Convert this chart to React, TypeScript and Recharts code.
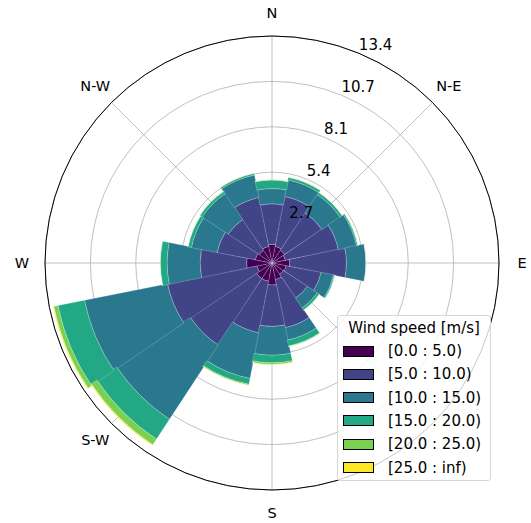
import React from 'react';
import { RadialBarChart, RadialBar, PolarAngleAxis, PolarRadiusAxis, PolarGrid, Legend } from 'recharts';

// 16 compass sectors, clockwise from north
const directions = ['N', 'NNE', 'NE', 'ENE', 'E', 'ESE', 'SE', 'SSE', 'S', 'SSW', 'SW', 'WSW', 'W', 'WNW', 'NW', 'NNW'];
// S-E sits under the legend in the original, so it is not shown
const dirLabels: Record<string, string> = { N: 'N', NE: 'N-E', E: 'E', S: 'S', SW: 'S-W', W: 'W', NW: 'N-W' };

const speedBins = ['[0.0 : 5.0)', '[5.0 : 10.0)', '[10.0 : 15.0)', '[15.0 : 20.0)', '[20.0 : 25.0)', '[25.0 : inf)'];
const binColors = ['#440154', '#414487', '#2a788e', '#22a884', '#7ad151', '#fde725'];

// frequency per direction for each speed bin
const bin0 = [1.1, 1.0, 0.9, 0.8, 1.05, 0.85, 0.8, 1.0, 1.3, 1.1, 1.1, 0.9, 1.5, 1.0, 0.9, 1.0];
const bin1 = [2.4, 3.0, 2.65, 3.2, 3.35, 2.1, 1.7, 2.9, 2.45, 3.1, 4.7, 5.4, 2.75, 2.3, 2.2, 2.95];
const bin2 = [0.9, 1.0, 1.3, 1.1, 1.15, 0.75, 0.7, 0.75, 1.7, 2.75, 5.25, 5.0, 1.95, 1.55, 1.85, 1.35];
const bin3 = [0.5, 0.15, 0.15, 0.08, 0.02, 0.08, 0.15, 0.35, 0.45, 0.35, 1.4, 1.6, 0.4, 0.2, 0.15, 0.1];
const bin4 = [0.03, 0.03, 0.02, 0.02, 0, 0.01, 0.02, 0.04, 0.1, 0.06, 0.4, 0.25, 0.02, 0.02, 0.03, 0.02];
const bin5 = [0, 0, 0, 0, 0, 0, 0, 0.01, 0.02, 0.01, 0.05, 0.05, 0, 0, 0, 0];

const radiusTicks = [2.684, 5.368, 8.052, 10.736, 13.42];
const gridAngles = [90, 45, 0, -45, -90, -135, -180, -225];

const bins = [bin0, bin1, bin2, bin3, bin4, bin5];
const data = directions.map((dir, i) => {
  const row: Record<string, any> = { dir };
  bins.forEach((b, k) => { row[`b${k}`] = b[i]; });
  return row;
});

const FONT = 'DejaVu Sans, sans-serif';
const HALF_SECTOR = 180 / directions.length;
const RAD = Math.PI / 180;

// tick coordinate is the sector start, labels go to the sector middle
const AngleTick = (props: any) => {
  const { x, y, cx, cy, radius, tickSize, payload } = props;
  const label = dirLabels[payload.value];
  if (!label) return null;
  let tx = x;
  let ty = y;
  if (cx != null && cy != null && radius != null) {
    const r = radius + (tickSize ?? 23);
    const a = (payload.coordinate + HALF_SECTOR) * RAD;
    tx = cx + r * Math.cos(a);
    ty = cy - r * Math.sin(a);
  }
  return (
    <text x={tx} y={ty} textAnchor="middle" dominantBaseline="central" fontSize={14.5} fill="#000" fontFamily={FONT}>
      {label}
    </text>
  );
};

const RadiusTick = (props: any) => {
  const { x, y, payload } = props;
  return (
    <text x={x} y={y - 3} textAnchor="start" fontSize={15} fill="#000" fontFamily={FONT}>
      {Number(payload.value).toFixed(1)}
    </text>
  );
};

const LegendBox = () => (
  <div style={{
    position: 'relative', width: 154, height: 166, boxSizing: 'border-box',
    border: '1px solid #d6d6d6', borderRadius: 3, background: 'rgba(255,255,255,0.8)',
    fontFamily: FONT, fontSize: 15, color: '#000',
  }}>
    <div style={{ position: 'absolute', left: 0, right: 0, top: 3, textAlign: 'center', lineHeight: '18px', whiteSpace: 'nowrap' }}>Wind speed [m/s]</div>
    {speedBins.map((name, i) => (
      <div key={name} style={{ position: 'absolute', left: 5, top: 26 + i * 23.3, height: 18, display: 'flex', alignItems: 'center' }}>
        <span style={{ display: 'inline-block', width: 31, height: 11, boxSizing: 'border-box', border: '1px solid #000', background: binColors[i] }} />
        <span style={{ marginLeft: 14, lineHeight: '18px', whiteSpace: 'nowrap' }}>{name}</span>
      </div>
    ))}
  </div>
);

export default function App() {
  return (
    <div style={{ position: 'absolute', left: 0, top: 0, width: 531, height: 523, background: '#fff' }}>
      <RadialBarChart
        width={531}
        height={523}
        data={data}
        layout="centric"
        cx={272}
        cy={263}
        innerRadius={0}
        outerRadius={227}
        startAngle={90 - HALF_SECTOR}
        endAngle={90 - HALF_SECTOR - 360}
        barCategoryGap={0}
        style={{ fontFamily: FONT }}
      >
        {bins.map((_, k) => (
          <RadialBar
            key={k}
            dataKey={`b${k}`}
            name={speedBins[k]}
            stackId="speed"
            fill={binColors[k]}
            stroke="#ffffff"
            strokeWidth={0.4}
            strokeOpacity={0.5}
            isAnimationActive={false}
          />
        ))}
        <PolarGrid gridType="circle" polarAngles={gridAngles} stroke="#b0b0b0" strokeWidth={0.8} />
        <PolarAngleAxis
          type="category"
          dataKey="dir"
          tickLine={false}
          tickSize={23}
          axisLineType="circle"
          axisLine={{ stroke: '#000', strokeWidth: 1 }}
          tick={<AngleTick />}
        />
        <PolarRadiusAxis
          type="number"
          domain={[0, 13.42]}
          ticks={radiusTicks}
          angle={67.5}
          axisLine={false}
          tickLine={false}
          tick={<RadiusTick />}
        />
        <Legend
          content={() => <LegendBox />}
          wrapperStyle={{ position: 'absolute', left: 337, top: 315, width: 154, height: 166 }}
        />
      </RadialBarChart>
    </div>
  );
}
